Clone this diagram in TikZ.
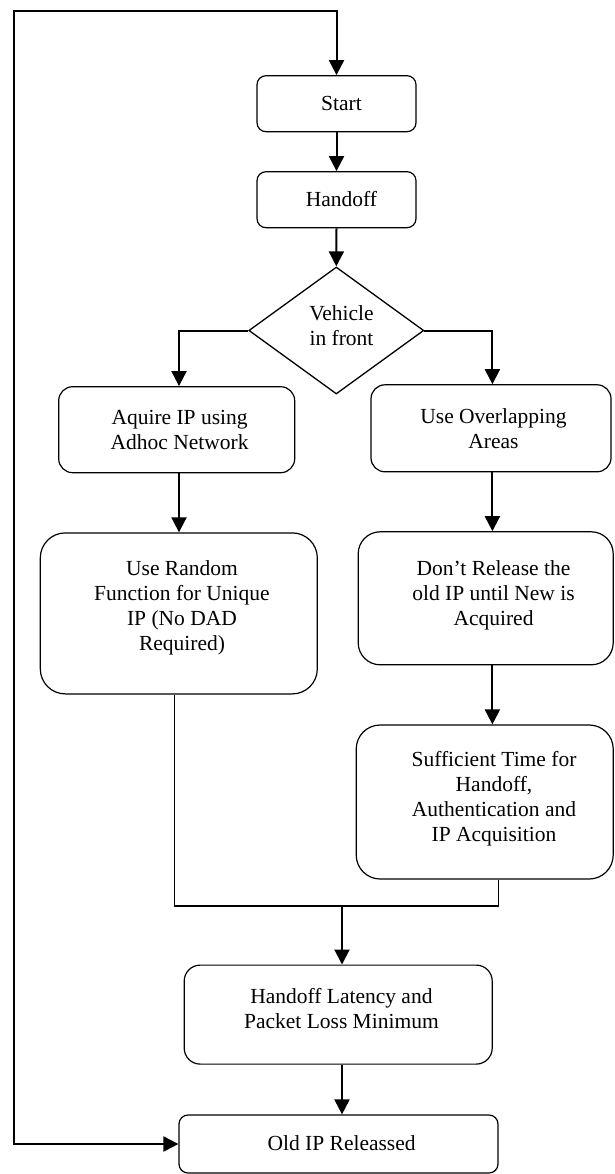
\documentclass[tikz,border=0pt]{standalone}
\usepackage{fontspec}
\setmainfont{Liberation Serif}
\usetikzlibrary{shapes.geometric,arrows.meta,calc}
\begin{document}
\begin{tikzpicture}[x=1pt,y=-1pt,
  box/.style={draw,line width=1.2pt,rounded corners=#1,inner sep=0pt},
  box/.default=9pt,
  decision/.style={draw,line width=1.3pt,diamond,inner sep=0pt},
  lbl/.style={font=\fontsize{21.5}{25}\selectfont,align=center,inner sep=0pt},
  flowtip/.tip={Triangle[length=15pt,width=15pt]},
  flow/.style={line width=2pt,-flowtip},
  loopback/.style={line width=2pt,flowtip-flowtip},
  mergeline/.style={line width=1.6pt}
]
\useasboundingbox (0,0) rectangle (614,1174);

% boxes
\node[box, minimum width=159pt, minimum height=56pt] (start) at (336.5,103.7) {};
\node[box, minimum width=159pt, minimum height=56pt] (handoff) at (336.5,199.7) {};
\node[decision, minimum width=175pt, minimum height=127pt] (vehicle) at (336.3,330.5) {};
\node[box=14pt, minimum width=236pt, minimum height=86pt] (aquire) at (176.7,429.7) {};
\node[box=14pt, minimum width=240pt, minimum height=87pt] (overlap) at (491,428.3) {};
\node[box=25pt, minimum width=277pt, minimum height=161pt] (random) at (178.8,613.4) {};
\node[box=22pt, minimum width=255pt, minimum height=133pt] (dont) at (485.7,598.3) {};
\node[box=24pt, minimum width=257pt, minimum height=154pt] (suff) at (484.7,802) {};
\node[box=16pt, minimum width=308pt, minimum height=99pt] (latency) at (338.2,1014.6) {};
\node[box=9pt, minimum width=319pt, minimum height=58pt] (old) at (338.5,1144) {};

% texts
\node[lbl] (tstart) at (341.5,103.5) {Start};
\node[lbl] (thandoff) at (341.5,199.5) {Handoff};
\node[lbl] (tvehicle) at (341.5,326) {Vehicle\\in front};
\node[lbl] (taquire) at (179.6,429.5) {Aquire IP using\\Adhoc Network};
\node[lbl] (toverlap) at (493.5,429) {Use Overlapping\\Areas};
\node[lbl] (trandom) at (182,607.5) {Use Random\\Function for Unique\\IP (No DAD\\Required)};
\node[lbl] (tdont) at (493.5,595) {Don’t Release the\\old IP until New is\\Acquired};
\node[lbl] (tsuff) at (494,799) {Sufficient Time for\\Handoff,\\Authentication and\\IP Acquisition};
\node[lbl] (tlatency) at (341.4,1009) {Handoff Latency and\\Packet Loss Minimum};
\node[lbl] (told) at (341.6,1143.5) {Old IP Releassed};

% connector waypoints
\coordinate (looptl) at (13.7,10.7);
\coordinate (mergeL) at (174.3,906);
\coordinate (mergeR) at (498.6,906);
\coordinate (mergeM) at (342,906);

% connectors
\draw[loopback] (old.west) -| (looptl) -| (start.north);
\draw[flow] (start.south) -- (handoff.north);
\draw[flow] (handoff.south) -- (vehicle.north);
\draw[flow] (vehicle.west) -| ($(aquire.north)+(2.3,0)$);
\draw[flow] (vehicle.east) -| ($(overlap.north)+(1.4,0)$);
\draw[flow] ($(aquire.south)+(2.3,0)$) -- ($(aquire.south |- random.north)+(2.3,0)$);
\draw[flow] ($(overlap.south)+(1.4,0)$) -- ($(overlap.south |- dont.north)+(1.4,0)$);
\draw[flow] ($(dont.south)+(6.7,0)$) -- ($(dont.south |- suff.north)+(6.7,0)$);
\draw[mergeline] (mergeL |- random.south) -- (mergeL) -- (mergeR) -- (mergeR |- suff.south);
\draw[flow] (mergeM) -- (mergeM |- latency.north);
\draw[flow] (mergeM |- latency.south) -- (mergeM |- old.north);
\end{tikzpicture}
\end{document}
